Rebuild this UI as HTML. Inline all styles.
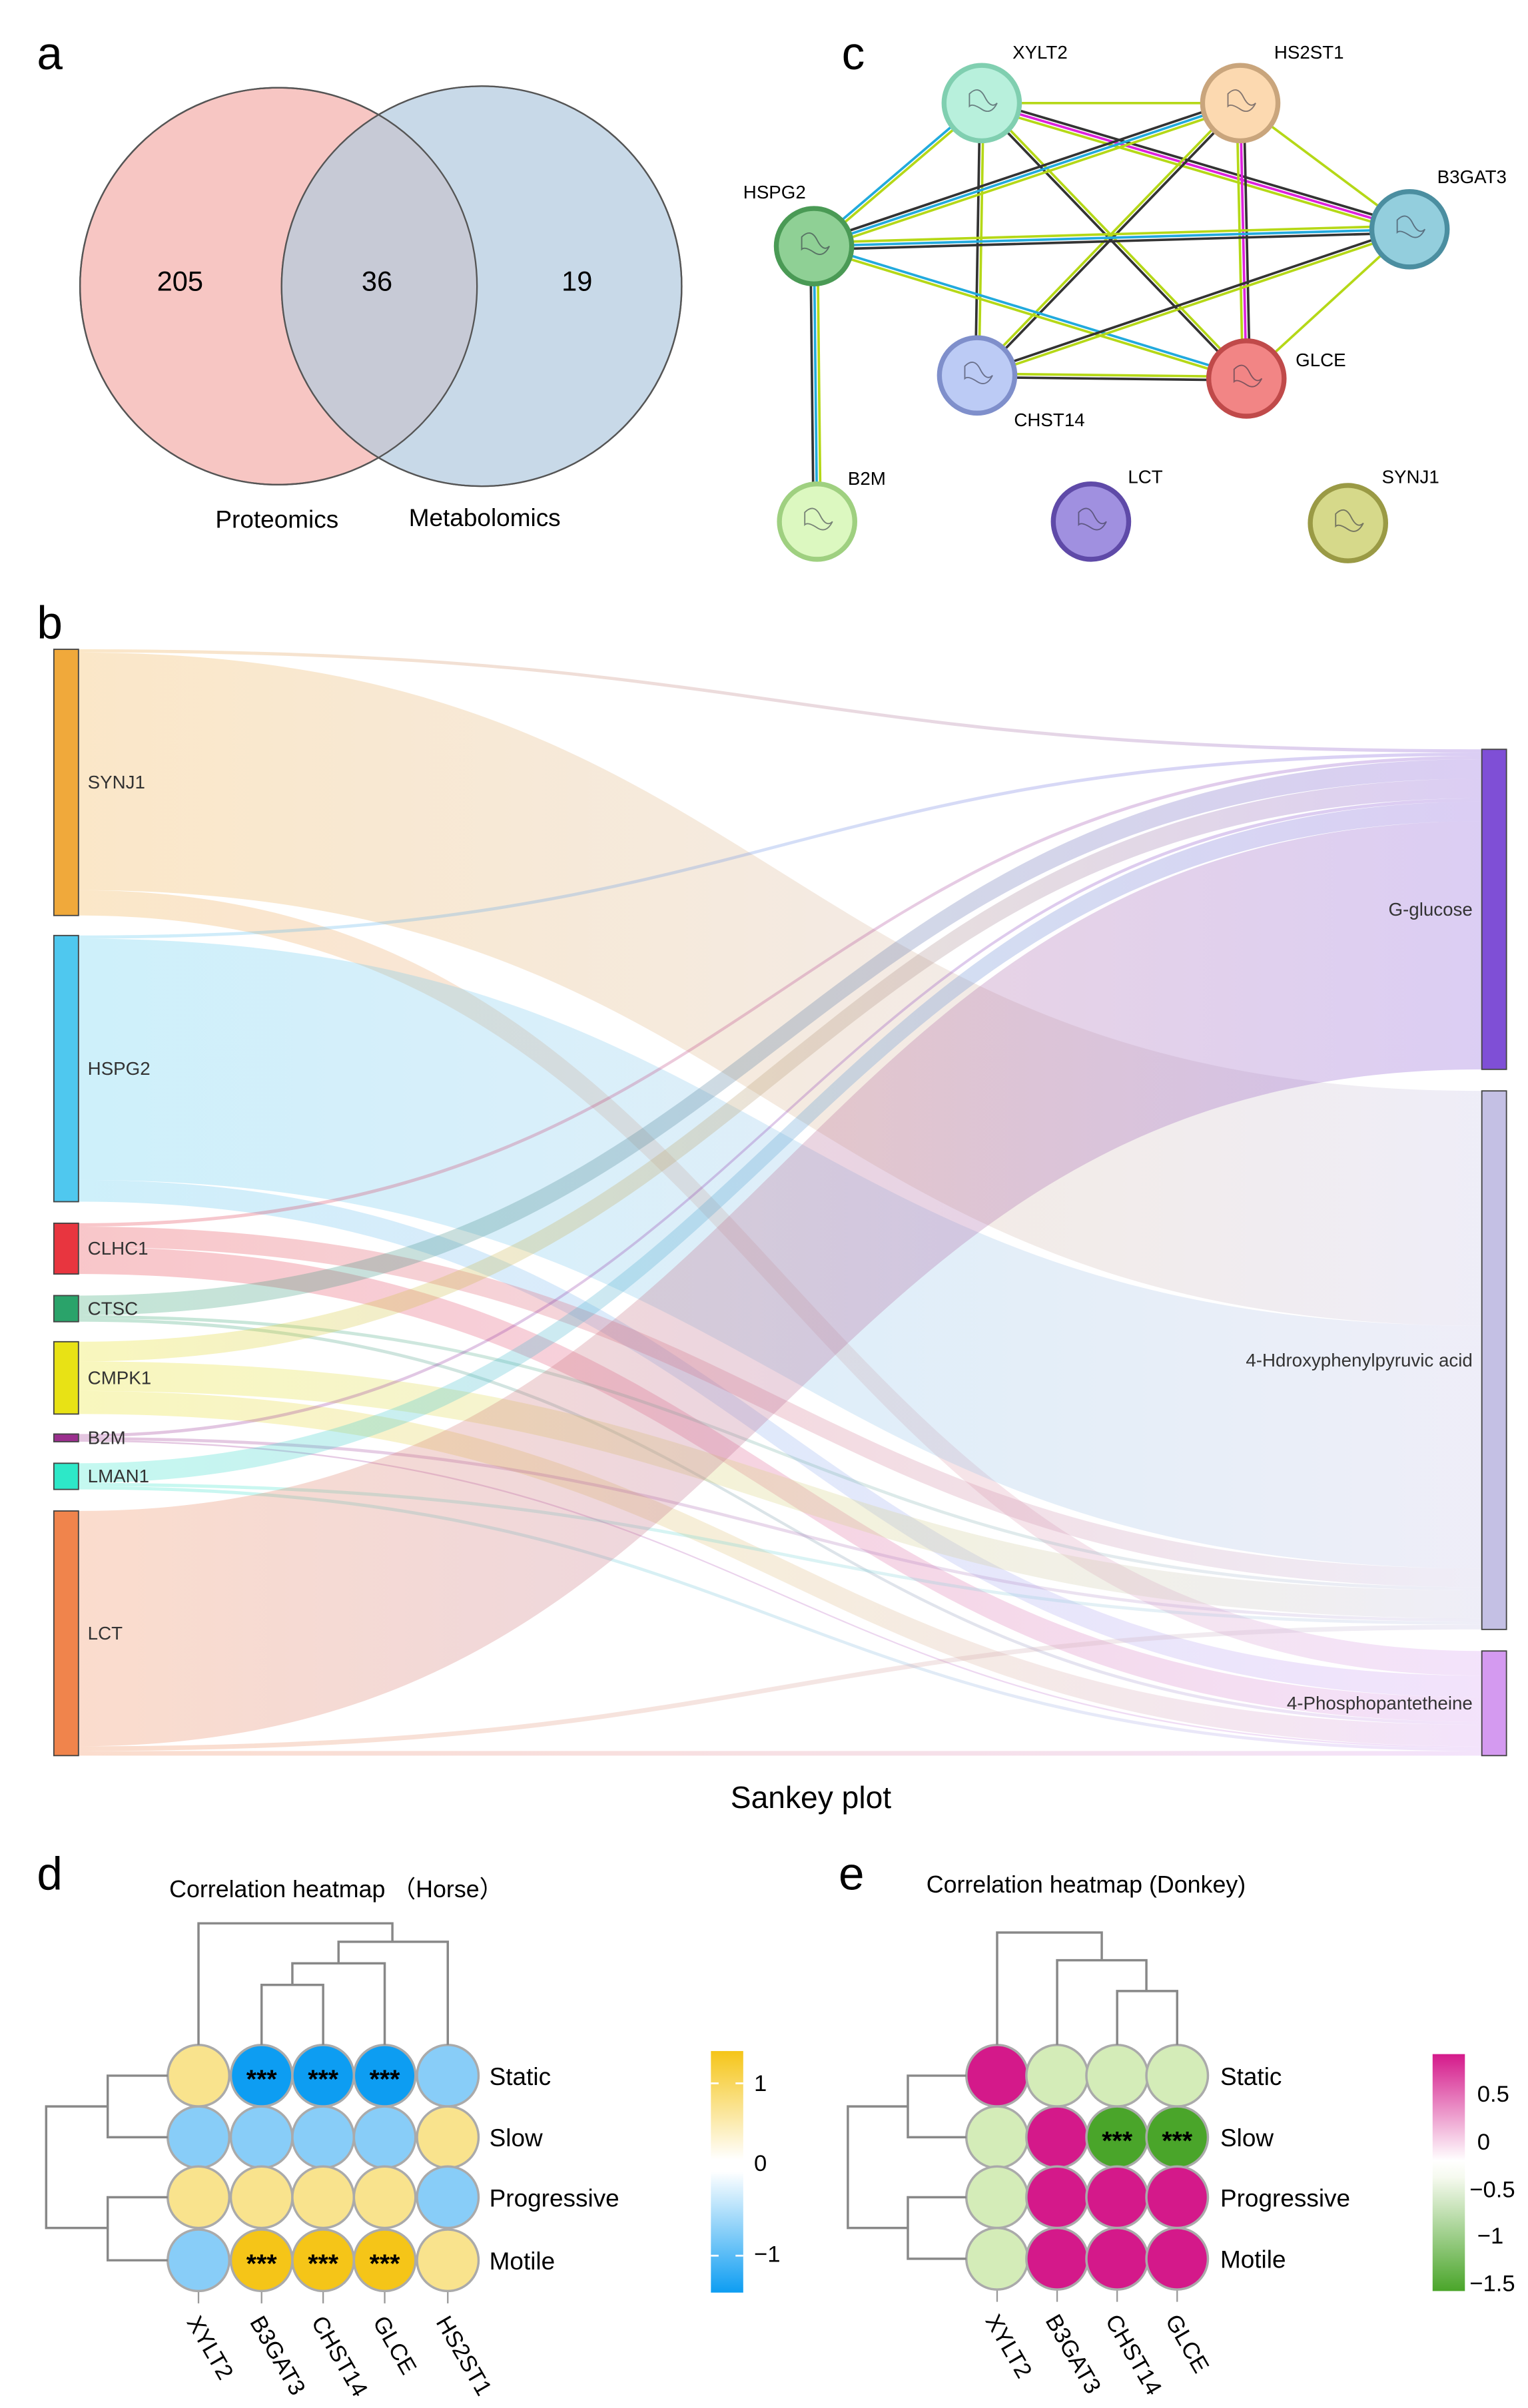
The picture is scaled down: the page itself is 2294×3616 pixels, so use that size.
<!DOCTYPE html>
<html><head><meta charset="utf-8"><style>
html,body{margin:0;padding:0;background:#fff}
svg{display:block}
text{font-family:"Liberation Sans",sans-serif}
</style></head><body>
<svg id="s" xmlns="http://www.w3.org/2000/svg" width="2294" height="3616" viewBox="0 0 993 1565" preserveAspectRatio="none">
<rect width="993" height="1565" fill="#fff"/>
<!-- Panel a -->
<text x="24" y="45" font-size="30">a</text>
<circle cx="181" cy="186" r="129" fill="#f7c6c3" stroke="#555" stroke-width="1"/>
<circle cx="313" cy="186" r="130" fill="#c8d9e8" stroke="#555" stroke-width="1"/>
<clipPath id="cl"><circle cx="181" cy="186" r="129"/></clipPath>
<circle cx="313" cy="186" r="130" fill="#c7cad6" clip-path="url(#cl)"/>
<circle cx="181" cy="186" r="129" fill="none" stroke="#555" stroke-width="1"/>
<circle cx="313" cy="186" r="130" fill="none" stroke="#555" stroke-width="1"/>
<text x="117" y="189" font-size="18" text-anchor="middle">205</text>
<text x="245" y="189" font-size="18" text-anchor="middle">36</text>
<text x="375" y="189" font-size="18" text-anchor="middle">19</text>
<text x="180" y="343" font-size="16" text-anchor="middle">Proteomics</text>
<text x="315" y="342" font-size="16" text-anchor="middle">Metabolomics</text>
<text x="547" y="45" font-size="30">c</text>
<g id="net"></g>
<!-- Panel b -->
<text x="24" y="415" font-size="30">b</text>
<defs id="defs"></defs>
<g id="links"></g>
<g id="bars"></g>
<text x="527" y="1175" font-size="20" text-anchor="middle">Sankey plot</text>
<!-- d / e -->
<text x="24" y="1228" font-size="30">d</text>
<text x="545" y="1228" font-size="30">e</text>
<text x="110" y="1233" font-size="15.5">Correlation heatmap （Horse）</text>
<text x="602" y="1230" font-size="15.5">Correlation heatmap (Donkey)</text>
<g id="hm"></g>
<defs>
<linearGradient id="cbd" x1="0" y1="0" x2="0" y2="1">
<stop offset="0" stop-color="#f5c518"/><stop offset="0.45" stop-color="#fff"/><stop offset="0.5" stop-color="#fff"/><stop offset="1" stop-color="#0d9df2"/></linearGradient>
<linearGradient id="cbe" x1="0" y1="0" x2="0" y2="1">
<stop offset="0" stop-color="#d4198a"/><stop offset="0.45" stop-color="#fff"/><stop offset="0.52" stop-color="#f6faef"/><stop offset="1" stop-color="#4aa52a"/></linearGradient>
</defs>
<rect x="462" y="1333" width="21" height="157" fill="url(#cbd)"/>
<g font-size="15">
<text x="490" y="1359">1</text><text x="490" y="1411">0</text><text x="490" y="1470">−1</text>
</g>
<g stroke="#fff" stroke-width="1.2"><line x1="462" y1="1354" x2="467" y2="1354"/><line x1="478" y1="1354" x2="483" y2="1354"/><line x1="462" y1="1466" x2="467" y2="1466"/><line x1="478" y1="1466" x2="483" y2="1466"/></g>
<rect x="931" y="1335" width="21" height="154" fill="url(#cbe)"/>
<g font-size="15">
<text x="960" y="1366">0.5</text><text x="960" y="1397">0</text><text x="955" y="1428">−0.5</text><text x="960" y="1458">−1</text><text x="955" y="1489">−1.5</text>
</g>
</svg>
<script>
const NS="http://www.w3.org/2000/svg";
function el(p,t,a,txt){const e=document.createElementNS(NS,t);for(const k in a)e.setAttribute(k,a[k]);if(txt!==undefined)e.textContent=txt;p.appendChild(e);return e;}
// network
const net=document.getElementById('net');
const N={XYLT2:[638,67,'#b8f0dc','#80cfb0'],HS2ST1:[806,67,'#fcd9b0','#c9a57c'],B3GAT3:[916,149,'#93cedd','#4b8ea0'],HSPG2:[529,160,'#8fd095','#4a9a55'],CHST14:[635,244,'#bccbf5','#7f8fcb'],GLCE:[810,246,'#f28585','#c04a4a'],B2M:[531,339,'#dcf8c0','#9fd080'],LCT:[709,339,'#a090e0','#5f4aa8'],SYNJ1:[876,340,'#d6d98a','#9a9a45']};
const G='#b5d817',B='#22aadd',K='#333',M='#dd22dd';
const E=[['XYLT2','HS2ST1',[G]],['XYLT2','B3GAT3',[K,M,G]],['XYLT2','HSPG2',[G,B]],['XYLT2','CHST14',[G,K]],['XYLT2','GLCE',[G,K]],['HS2ST1','HSPG2',[G,B,K]],['HS2ST1','B3GAT3',[G]],['HS2ST1','GLCE',[K,M,G]],['HS2ST1','CHST14',[K,G]],['HSPG2','B3GAT3',[G,B,K]],['HSPG2','GLCE',[B,G]],['HSPG2','B2M',[G,B,K]],['B3GAT3','CHST14',[G,K]],['B3GAT3','GLCE',[G]],['CHST14','GLCE',[G,K]]];
E.forEach(([a,b,cs])=>{const A=N[a],Bn=N[b];const dx=Bn[0]-A[0],dy=Bn[1]-A[1],L=Math.hypot(dx,dy);const nx=-dy/L,ny=dx/L;cs.forEach((c,i)=>{const o=(i-(cs.length-1)/2)*2.3;el(net,'line',{x1:A[0]+nx*o,y1:A[1]+ny*o,x2:Bn[0]+nx*o,y2:Bn[1]+ny*o,stroke:c,'stroke-width':1.6});});});
const lab={XYLT2:[658,38],HS2ST1:[828,38],B3GAT3:[934,119],HSPG2:[483,129],CHST14:[659,277],GLCE:[842,238],B2M:[551,315],LCT:[733,314],SYNJ1:[898,314]};
for(const k in N){const [x,y,f,s]=N[k];el(net,'circle',{cx:x,cy:y,r:24.5,fill:f,stroke:s,'stroke-width':3.2});
el(net,'path',{d:`M${x-8} ${y-6} q6 -6 10 2 t8 4 q-4 8 -10 4 t-8 -2 z`,fill:'none',stroke:'#334','stroke-width':0.8,opacity:0.6});
el(net,'text',{x:lab[k][0],y:lab[k][1],'font-size':12},k);}
// sankey
const src=[['SYNJ1',422,595,'#f0a93b'],['HSPG2',608,781,'#4fc8ef'],['CLHC1',795,828,'#e8353f'],['CTSC',842,859,'#2aa36a'],['CMPK1',872,919,'#e8e215'],['B2M',932,937,'#9b2f8e'],['LMAN1',951,968,'#2de8c8'],['LCT',982,1141,'#f0844c']];
const tgt=[['G-glucose',487,695,'#7f4fd6'],['4-Hdroxyphenylpyruvic acid',709,1059,'#c4c0e4'],['4-Phosphopantetheine',1073,1141,'#d49af0']];
const W=[[2,150,16],[2,155,14],[2,12,16],[12,2,2],[12,18,14],[2,2,1],[12,2,2],[152,3,3]];
const sy=src.map((s,i)=>{const t=W[i].reduce((a,b)=>a+b);return (s[2]-s[1])/t;});
const tt=[0,1,2].map(j=>W.reduce((a,r)=>a+r[j],0));
const ty=tgt.map((t,j)=>(t[2]-t[1])/tt[j]);
const sp=src.map(s=>s[1]),tp=tgt.map(t=>t[1]);
const links=document.getElementById('links'),defs=document.getElementById('defs');
const lk=[];
for(let i=0;i<src.length;i++)for(let j=0;j<3;j++){const ws=W[i][j]*sy[i],wt=W[i][j]*ty[j];lk.push([i,j,sp[i],sp[i]+ws,tp[j],tp[j]+wt]);sp[i]+=ws;tp[j]+=wt;}
// fix target stacking order by source order (already by i loop per j? need per-target order by source)
const tp2=tgt.map(t=>t[1]);
for(let j=0;j<3;j++)for(let i=0;i<src.length;i++){const l=lk[i*3+j];const wt=l[5]-l[4];l[4]=tp2[j];l[5]=tp2[j]+wt;tp2[j]+=wt;}
const x0=51,x1=963,xm=(x0+x1)/2;
lk.forEach((l,k)=>{const [i,j,a,b,c,d]=l;const gid='g'+k;const g=el(defs,'linearGradient',{id:gid,x1:0,y1:0,x2:1,y2:0});el(g,'stop',{offset:0,'stop-color':src[i][3]});el(g,'stop',{offset:1,'stop-color':tgt[j][3]});
el(links,'path',{d:`M${x0} ${a} C${xm} ${a} ${xm} ${c} ${x1} ${c} L${x1} ${d} C${xm} ${d} ${xm} ${b} ${x0} ${b} Z`,fill:`url(#${gid})`,opacity:0.28});});
const bars=document.getElementById('bars');
src.forEach(s=>{el(bars,'rect',{x:35,y:s[1],width:16,height:s[2]-s[1],fill:s[3],stroke:'#444','stroke-width':0.8});el(bars,'text',{x:57,y:(s[1]+s[2])/2+4,'font-size':12,fill:'#333'},s[0]);});
tgt.forEach(t=>{el(bars,'rect',{x:963,y:t[1],width:16,height:t[2]-t[1],fill:t[3],stroke:'#444','stroke-width':0.8});el(bars,'text',{x:957,y:(t[1]+t[2])/2+4,'font-size':12,fill:'#333','text-anchor':'end'},t[0]);});
// heatmaps
const hm=document.getElementById('hm');
function ln(pts){el(hm,'polyline',{points:pts,fill:'none',stroke:'#888','stroke-width':1.5});}
function heat(cols,rows,names,cells,stars,lx){
 names.forEach((n,c)=>{el(hm,'line',{x1:cols[c],y1:rows[3]+20,x2:cols[c],y2:rows[3]+28,stroke:'#999','stroke-width':1});
 el(hm,'text',{x:cols[c]-8,y:rows[3]+40,'font-size':15,transform:`rotate(60 ${cols[c]-8} ${rows[3]+40})`},n);});
 for(let r=0;r<4;r++)for(let c=0;c<cols.length;c++){el(hm,'circle',{cx:cols[c],cy:rows[r],r:20,fill:cells[r][c],stroke:'#aaa','stroke-width':1.5});
 if(stars[r][c])el(hm,'text',{x:cols[c],y:rows[r]+8,'font-size':17,'text-anchor':'middle','font-weight':'bold'},'***');}
 ['Static','Slow','Progressive','Motile'].forEach((t,r)=>el(hm,'text',{x:lx,y:rows[r]+6,'font-size':16},t));
}
const py='#f9e38d',pb='#88cdf8',sb='#0d9df2',syl='#f5c518';
const dc=[129,170,210,250,291],dr=[1349,1389,1428,1469];
heat(dc,dr,['XYLT2','B3GAT3','CHST14','GLCE','HS2ST1'],[[py,sb,sb,sb,pb],[pb,pb,pb,pb,py],[py,py,py,py,pb],[pb,syl,syl,syl,py]],[[0,1,1,1,0],[0,0,0,0,0],[0,0,0,0,0],[0,1,1,1,0]],318);
ln(`170,1329 170,1290 210,1290 210,1329`);ln(`190,1290 190,1276 250,1276 250,1329`);ln(`220,1276 220,1262 291,1262 291,1329`);ln(`129,1329 129,1250 255,1250 255,1262`);
ln(`109,1349 70,1349 70,1389 109,1389`);ln(`109,1428 70,1428 70,1469 109,1469`);ln(`70,1369 30,1369 30,1448 70,1448`);
const M2='#d4198a',pg='#d4ecb8',dg='#4aa52a';
const ec=[648,687,726,765],er=[1349,1389,1428,1468];
heat(ec,er,['XYLT2','B3GAT3','CHST14','GLCE'],[[M2,pg,pg,pg],[pg,M2,dg,dg],[pg,M2,M2,M2],[pg,M2,M2,M2]],[[0,0,0,0],[0,0,1,1],[0,0,0,0],[0,0,0,0]],793);
ln(`726,1329 726,1294 765,1294 765,1329`);ln(`687,1329 687,1274 745,1274 745,1294`);ln(`648,1329 648,1256 716,1256 716,1274`);
ln(`628,1349 590,1349 590,1389 628,1389`);ln(`628,1428 590,1428 590,1468 628,1468`);ln(`590,1369 551,1369 551,1448 590,1448`);
</script>
</body></html>
